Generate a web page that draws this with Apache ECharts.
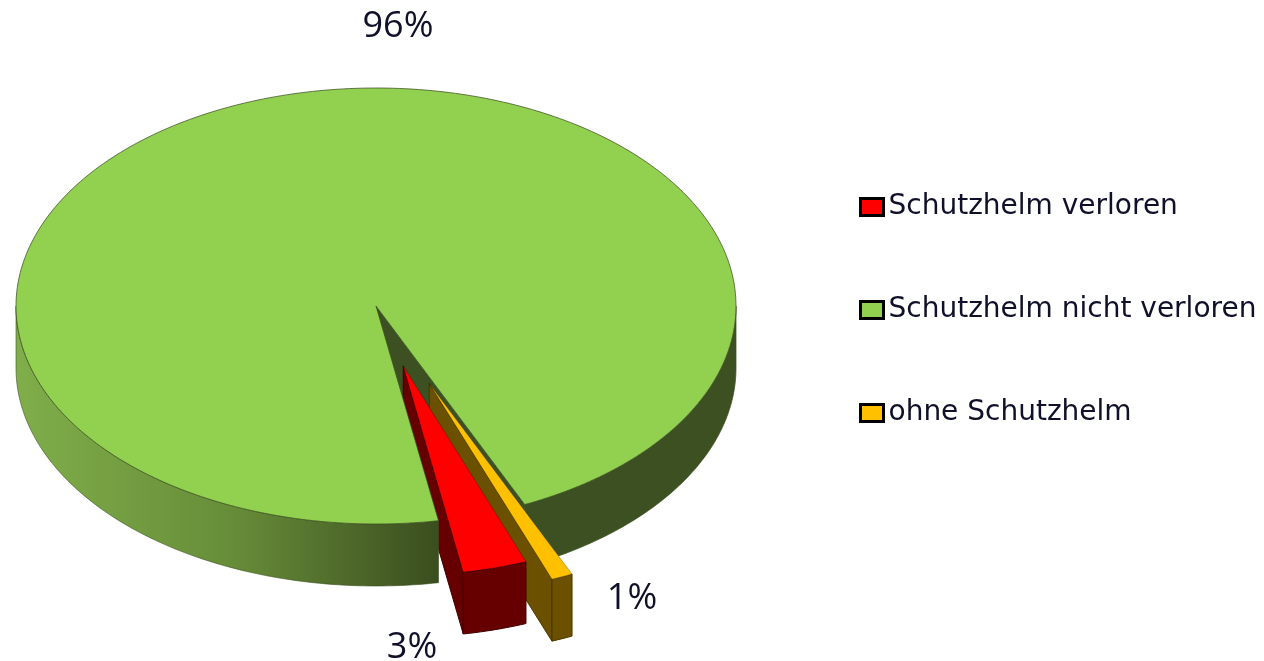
<!DOCTYPE html>
<html>
<head>
<meta charset="utf-8">
<title>Schutzhelm</title>
<style>
html, body { margin: 0; padding: 0; background: #fff; }
#main { width: 1264px; height: 661px; }
</style>
<script src="https://cdn.jsdelivr.net/npm/echarts@6/dist/echarts.min.js"></script>
</head>
<body>
<div id="main"></div>
<script>
var categories = ["Schutzhelm verloren", "Schutzhelm nicht verloren", "ohne Schutzhelm"];
var values = [3, 96, 1];

// looks of the three slices, same order as categories
var topColors = ["#ff0000", "#92d050", "#ffc000"];
var wallColors = ["#660000", "#3d5021", "#6b5000"];
var edgeColors = ["#3f0000", "rgba(60,80,32,0.75)", "#4a3700"];
var explode = [0.285, 0, 0.385];
var shrink = [0.96, 1, 0.96];
var labelPos = [[412, 648], [398, 27], [632, 599]];

var cx = 376, cy = 306, rx = 360, ry = 218, depth = 62;
var startAngle = 69.2;
var total = values.reduce(function(a, b) { return a + b; }, 0);

function rad(d) { return d * Math.PI / 180; }

function sliceAngles(i) {
	var before = 0;
	for (var k = 0; k < i; k++) before += values[k];
	return [startAngle + before / total * 360, startAngle + (before + values[i]) / total * 360];
}

function arcPoints(x0, y0, r, a0, a1, dy) {
	var pts = [], n = Math.max(2, Math.ceil(Math.abs(a1 - a0)));
	for (var k = 0; k <= n; k++) {
		var a = rad(a0 + (a1 - a0) * k / n);
		pts.push([x0 + rx * r * Math.cos(a), y0 + ry * r * Math.sin(a) + dy]);
	}
	return pts;
}

function wall(x0, y0, r, a0, a1, fill, stroke, z2) {
	var upper = arcPoints(x0, y0, r, a0, a1, 0);
	var lower = arcPoints(x0, y0, r, a0, a1, depth).reverse();
	return {
		type: "polygon", z2: z2,
		shape: { points: upper.concat(lower) },
		style: { fill: fill, stroke: stroke, lineWidth: 1 }
	};
}

function radialFace(x0, y0, r, a, fill, stroke, z2) {
	var p = arcPoints(x0, y0, r, a, a, 0)[0];
	return {
		type: "polygon", z2: z2,
		shape: { points: [[x0, y0], p, [p[0], p[1] + depth], [x0, y0 + depth]] },
		style: { fill: fill, stroke: stroke, lineWidth: 1 }
	};
}

function renderSlice(params, api) {
	var i = params.seriesIndex;
	var ang = sliceAngles(i), a0 = ang[0], a1 = ang[1];
	var mid = rad((a0 + a1) / 2);
	var x0 = cx + rx * explode[i] * Math.cos(mid);
	var y0 = cy + ry * explode[i] * Math.sin(mid);
	var r = shrink[i];
	var children = [];

	if (i === 1) {
		// the big slice runs past 360, so its front wall comes in two parts
		var end = a1 - 360;
		var shade = new echarts.graphic.LinearGradient(17, 0, 443, 0, [
			{ offset: 0, color: "#80ae4a" },
			{ offset: 0.5, color: "#678d39" },
			{ offset: 1, color: "#3a4c1e" }
		], true);
		children.push(wall(x0, y0, r, 0, end, wallColors[i], edgeColors[i], 1));
		children.push(radialFace(x0, y0, r, end, wallColors[i], edgeColors[i], 2));
		children.push(wall(x0, y0, r, a0, 180, shade, "rgba(60,80,32,0.6)", 30));
		var pts = [[x0, y0]].concat(arcPoints(x0, y0, r, a0, a1, 0));
		children.push({
			type: "polygon", z2: 40,
			shape: { points: pts },
			style: { fill: topColors[i], stroke: edgeColors[i], lineWidth: 1 }
		});
	} else {
		var base = i === 0 ? 20 : 10;
		children.push(radialFace(x0, y0, r, a1, wallColors[i], edgeColors[i], base));
		children.push(wall(x0, y0, r, a0, a1, wallColors[i], edgeColors[i], base + 1));
		children.push({
			type: "polygon", z2: base + 2,
			shape: { points: [[x0, y0]].concat(arcPoints(x0, y0, r, a0, a1, 0)) },
			style: { fill: topColors[i], stroke: "rgba(0,0,0,0.25)", lineWidth: 1 }
		});
	}

	children.push({
		type: "text", z2: 50,
		x: labelPos[i][0], y: labelPos[i][1],
		style: {
			text: Math.round(api.value(0) / total * 100) + "%",
			fill: "#10102a",
			font: '36px "Open Sans"',
			textAlign: "center",
			textVerticalAlign: "middle"
		}
	});
	return { type: "group", children: children };
}

var chart = echarts.init(document.getElementById("main"), null, { renderer: "canvas" });
chart.setOption({
	animation: false,
	backgroundColor: "#fff",
	legend: {
		orient: "vertical",
		left: 854,
		top: 188,
		selectedMode: false,
		icon: "rect",
		itemWidth: 23,
		itemHeight: 17,
		itemGap: 75,
		data: categories,
		textStyle: { fontFamily: "DejaVu Sans", fontSize: 28, color: "#10102a" },
		itemStyle: { borderColor: "#000", borderWidth: 3 }
	},
	series: categories.map(function(name, i) {
		return {
			type: "custom",
			name: name,
			coordinateSystem: "none",
			itemStyle: { color: topColors[i] },
			renderItem: renderSlice,
			data: [[values[i]]]
		};
	})
});
</script>
</body>
</html>
